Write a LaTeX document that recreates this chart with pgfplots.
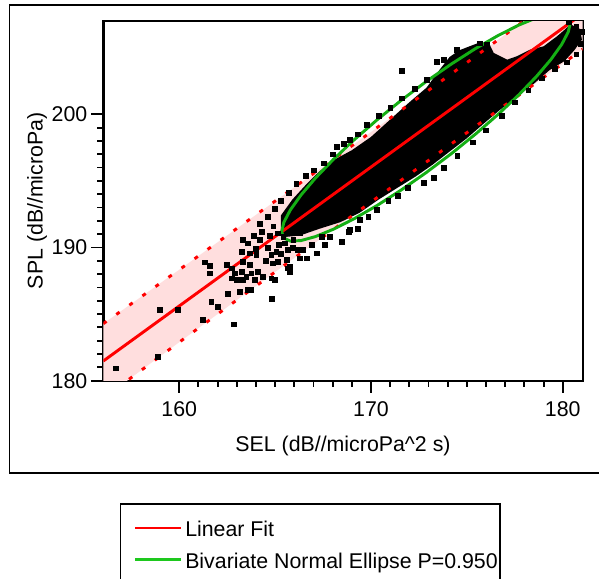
\documentclass[border=0pt]{standalone}
\usepackage{pgfplots}
\pgfplotsset{compat=1.18}
\usepackage{fontspec}
\setmainfont{Liberation Sans}
\definecolor{fitred}{RGB}{255,0,0}
\definecolor{ellgreen}{RGB}{20,175,20}
\definecolor{legendgreen}{RGB}{30,200,30}
\definecolor{bandpink}{RGB}{255,222,222}
\newcommand\chartfont{\fontsize{16}{19.2}\selectfont}
\begin{document}
\begin{tikzpicture}
\useasboundingbox (0,0) rectangle (449.25pt,-433.5pt);
\clip (0,0) rectangle (449.25pt,-433.5pt);
\begin{scope}[x=0.75pt,y=-0.75pt]
\draw[line width=1.2pt] (9.5,5) rectangle (620,472.7);
\end{scope}
\begin{axis}[
  at={(77.475pt,-285.525pt)}, anchor=south west,
  scale only axis, width=359.55pt, height=269.775pt,
  xmin=156.04, xmax=181.04, ymin=180, ymax=207,
  xtick={160,170,180}, ytick={180,190,200},
  minor x tick num=9, minor y tick num=9,
  xtick pos=bottom, ytick pos=left,
  tick align=outside,
  major tick length=9pt, minor tick length=4.5pt,
  tick style={black, line width=1.4pt},
  axis line style={line width=1.8pt},
  /pgf/number format/assume math mode=true,
  xticklabel style={font=\chartfont, yshift=-3pt},
  yticklabel style={font=\chartfont, xshift=0.5pt},
  xlabel={SEL (dB//microPa\^{}2 s)},
  ylabel={SPL (dB//microPa)},
  every axis x label/.style={font=\chartfont, at={(axis description cs:0.5,-0.1965)}, anchor=base, inner sep=0pt},
  every axis y label/.style={font=\chartfont, rotate=90, at={(axis description cs:-0.1266,0.5)}, anchor=base, inner sep=0pt},
]
% prediction band (shaded)
\addplot[fill=bandpink, draw=none] coordinates {
(156.04,184.28) (160,188.33) (165,193.48) (170,198.67) (175,203.88) (181.04,210.22)
(181.04,204.88) (175,198.62) (170,193.41) (165,188.16) (160,182.89) (156.04,178.68)
} -- cycle;
% saturated core of the scatter
\addplot[fill=black, draw=none] coordinates {
(165.3,191.0) (165.3,192.4) (165.9,193.6) (166.6,194.7) (167.3,195.7) (168.1,196.6)
(169.0,197.3) (170.0,198.3) (171.0,199.6) (172.0,200.9) (172.9,202.0) (173.5,203.2)
(174.1,204.3) (174.6,204.8) (175.5,205.3) (176.2,205.2) (176.4,204.6) (177.1,204.1)
(177.6,204.35) (178.3,204.85) (179.0,205.1) (179.7,205.85) (180.1,206.35) (180.4,206.75)
(180.9,206.4) (181.0,205.6) (180.6,204.8) (180.1,204.0) (179.3,203.3) (178.5,202.3)
(177.6,201.3) (176.7,200.3) (175.8,199.2) (175.0,198.2) (174.1,197.2) (173.2,196.2)
(172.3,195.3) (171.4,194.5) (170.4,193.6) (169.4,192.6) (168.4,191.9) (167.3,191.4)
(166.3,190.9) (165.6,190.8)
} -- cycle;
% individual points
\addplot[only marks, mark=square*, mark size=1.8pt, black] table {
x y
156.68 180.93
158.89 181.80
158.98 185.31
159.93 185.31
161.24 184.56
162.84 184.23
161.67 185.93
162.02 185.56
162.54 186.51
164.84 186.18
161.33 188.89
161.59 188.61
161.59 188.06
163.15 186.68
163.59 186.81
163.76 186.81
163.59 190.32
164.20 190.56
164.72 190.86
165.15 191.07
163.24 189.69
163.68 189.56
164.02 189.44
164.80 189.44
165.06 189.69
165.50 190.32
165.67 189.81
166.20 189.81
166.28 189.19
165.15 188.93
164.89 188.81
163.68 188.69
163.33 188.93
162.72 188.44
162.46 188.69
162.89 188.06
163.24 188.18
163.50 187.81
163.76 188.06
164.11 188.18
164.37 187.81
163.94 187.56
163.33 187.56
162.98 187.56
162.72 187.69
164.80 187.69
164.98 187.56
165.67 188.44
165.76 188.18
163.9 190.9
164.3 191.2
164.6 190.0
164.9 191.6
165.2 190.2
163.3 190.6
164.0 189.9
164.5 189.0
165.3 189.5
165.9 190.0
164.2 191.8
164.6 192.3
165.0 192.9
165.43 190.81
165.95 190.56
166.30 191.07
166.47 189.81
166.65 189.19
167.17 189.56
167.43 190.81
167.87 190.81
168.48 190.44
168.82 191.19
165.78 188.56
165.61 189.06
168.91 191.31
169.43 192.06
169.86 192.31
170.30 192.81
169.3 191.4
166.9 190.2
167.6 190.2
165.3 193.5
165.7 194.1
166.1 194.8
166.6 195.4
167.0 195.8
167.52 196.32
168.0 197.0
168.22 197.57
168.6 197.8
168.91 198.07
169.3 198.5
169.8 199.2
170.4 199.9
171.0 200.5
171.6 201.2
172.3 201.9
172.9 202.6
173.43 203.95
173.78 204.08
174.48 204.83
175.69 205.33
176.04 205.2
171.6 203.27
170.9 193.5
171.4 193.9
171.9 194.5
172.74 194.86
173.26 195.24
173.8 196.0
174.5 196.9
175.3 197.9
176.0 198.8
176.8 199.9
177.5 200.9
178.2 201.8
178.9 202.7
179.6 203.4
180.2 203.9
180.7 204.5
180.3 206.9
180.7 206.6
181.0 206.2
180.95 205.3
};
% prediction limits (dotted)
\addplot[fitred, line width=2.2pt, dash pattern=on 3pt off 9pt] coordinates {
(156.04,184.28) (160,188.33) (165,193.48) (170,198.67) (175,203.88) (181.04,210.22)};
\addplot[fitred, line width=2.2pt, dash pattern=on 3pt off 9pt] coordinates {
(156.04,178.68) (160,182.89) (165,188.16) (170,193.41) (175,198.62) (181.04,204.88)};
% linear fit
\addplot[fitred, line width=2.2pt] coordinates {(156.04,181.477) (181.04,207.552)};
% bivariate normal ellipse P=0.950
\addplot[ellgreen, line width=2.2pt] coordinates {
(180.399,206.884) (180.285,207.358) (179.945,207.579) (179.39,207.541) (178.637,207.242)
(177.71,206.696) (176.635,205.916) (175.445,204.927) (174.177,203.758) (172.87,202.447)
(171.563,201.032) (170.295,199.555) (169.105,198.062) (168.03,196.598) (167.103,195.21)
(166.35,193.937) (165.795,192.819) (165.455,191.888) (165.341,191.176) (165.455,190.702)
(165.795,190.481) (166.35,190.519) (167.103,190.818) (168.03,191.364) (169.105,192.144)
(170.295,193.133) (171.563,194.302) (172.87,195.613) (174.177,197.028) (175.445,198.505)
(176.635,199.998) (177.71,201.462) (178.637,202.85) (179.39,204.123) (179.945,205.241)
(180.285,206.172) (180.399,206.884)};
\end{axis}
\begin{scope}[x=0.75pt,y=-0.75pt]
\draw[line width=1pt] (120.7,504) rectangle (500,620);
\draw[fitred, line width=1.6pt] (135,528) -- (180.7,528);
\node[anchor=base west, inner sep=0pt, font=\chartfont] at (185,536.7) {Linear Fit};
\draw[legendgreen, line width=1.6pt] (135,559.5) -- (180.7,559.5);
\node[anchor=base west, inner sep=0pt, font=\chartfont] at (185,568.3) {Bivariate Normal Ellipse P=0.950};
\end{scope}
\end{tikzpicture}
\end{document}
